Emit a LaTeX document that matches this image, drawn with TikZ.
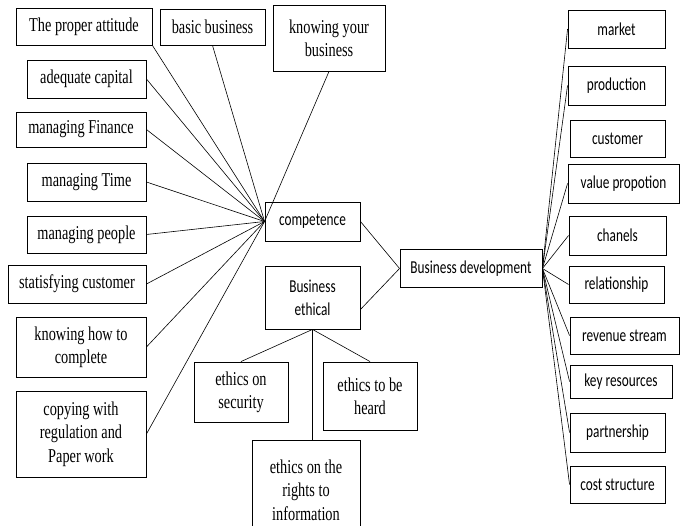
\documentclass[tikz,border=0pt]{standalone}
\usepackage{fontspec}
\newfontfamily\serifbx[FakeStretch=0.73]{Liberation Serif}
\newfontfamily\sansbx[FakeStretch=0.73]{Carlito}
\begin{document}
\begin{tikzpicture}[x=1pt,y=-1pt,
  bx/.style={draw, line width=0.9pt, inner sep=0pt, align=center},
  sb/.style={bx, font=\serifbx\fontsize{19.6}{23.3}\selectfont},
  cb/.style={bx, font=\sansbx\fontsize{18.2}{23.3}\selectfont},
  ln/.style={line width=0.6pt}]
\useasboundingbox (0,0) rectangle (681,526);
\clip (0,0) rectangle (681,526);
% left serif boxes
\node[sb, minimum width=136pt, minimum height=37pt] (att) at (84,26.5) {The proper attitude};
\node[sb, minimum width=105pt, minimum height=36pt] (basic) at (212.5,27) {basic business};
\node[sb, minimum width=112pt, minimum height=66pt] (know) at (329,38) {knowing your\\business};
\node[sb, minimum width=119pt, minimum height=38pt] (cap) at (86.5,79) {adequate capital};
\node[sb, minimum width=130pt, minimum height=35pt] (fin) at (81,129.5) {managing Finance};
\node[sb, minimum width=119pt, minimum height=38pt] (time) at (86.5,182) {managing Time};
\node[sb, minimum width=119pt, minimum height=37pt] (people) at (86.5,234.5) {managing people};
\node[sb, minimum width=138pt, minimum height=38pt] (satis) at (77,284) {statisfying customer};
\node[sb, minimum width=130pt, minimum height=60pt] (how) at (81,347) {knowing how to\\complete};
\node[sb, minimum width=130pt, minimum height=86pt] (copy) at (81,434) {copying with\\regulation and\\Paper work};
% centre
\node[cb, minimum width=95pt, minimum height=39pt] (comp) at (312.5,221.5) {competence};
\node[cb, minimum width=95pt, minimum height=63pt] (eth) at (312.5,297.5) {Business\\ethical};
\node[cb, minimum width=142pt, minimum height=38pt] (bd) at (471,268.5) {Business development};
\node[sb, minimum width=94pt, minimum height=60pt] (sec) at (241,392) {ethics on\\security};
\node[sb, minimum width=94pt, minimum height=68pt] (heard) at (370,396) {ethics to be\\heard};
\node[sb, minimum width=108pt, minimum height=100pt] (rights) at (306,490) {ethics on the\\rights to\\information};
% right sans boxes
\node[cb, minimum width=97pt, minimum height=38pt] (market) at (616.5,29) {market};
\node[cb, minimum width=97pt, minimum height=39pt] (prod) at (616.5,85.5) {production};
\node[cb, minimum width=95pt, minimum height=37pt] (cust) at (617.5,138.5) {customer};
\node[cb, minimum width=111pt, minimum height=39pt] (value) at (623.5,183.5) {value propotion};
\node[cb, minimum width=97pt, minimum height=39pt] (chan) at (617.5,235.5) {chanels};
\node[cb, minimum width=95pt, minimum height=37pt] (rel) at (616.5,284.5) {relationship};
\node[cb, minimum width=109pt, minimum height=37pt] (rev) at (624.5,335.5) {revenue stream};
\node[cb, minimum width=102pt, minimum height=33pt] (key) at (621,381.5) {key resources};
\node[cb, minimum width=95pt, minimum height=39pt] (part) at (617.5,432.5) {partnership};
\node[cb, minimum width=95pt, minimum height=37pt] (cost) at (617.5,484.5) {cost structure};
% connectors to competence
\draw[ln] (att.south east) -- (comp.west);
\draw[ln] (basic.south) -- (comp.west);
\draw[ln] (know.south) -- (comp.west);
\foreach \n in {cap,fin,time,people,satis,how,copy}
  \draw[ln] (\n.east) -- (comp.west);
% centre links
\draw[ln] (comp.east) -- (bd.west);
\draw[ln] ([yshift=-12pt]eth.east) -- (bd.west);
\draw[ln] (eth.south) -- (sec.north);
\draw[ln] (eth.south) -- (heard.north);
\draw[ln] (eth.south) -- (eth.south |- rights.north);
% right links
\foreach \n in {market,prod,value,chan,rel,rev,key,part,cost}
  \draw[ln] (bd.east) -- (\n.west);
\end{tikzpicture}
\end{document}
